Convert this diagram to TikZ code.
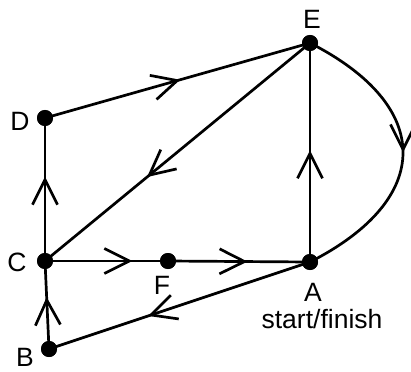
\documentclass[tikz,border=0pt]{standalone}
\usepackage{fontspec}
\setmainfont{Liberation Sans}
\usetikzlibrary{arrows.meta,decorations.markings}
\tikzset{
  dot/.style={circle,fill=black,inner sep=0pt,minimum size=16pt},
  lbl/.style={inner sep=0pt,font=\fontsize{26.5}{30}\selectfont},
  edge/.style={line width=2.7pt,black},
  chev/.style={postaction={decorate,decoration={markings,
     mark=at position #1 with {\arrow[line width=2.7pt]{Straight Barb[length=25pt,width=25pt]}}}}}
}
\begin{document}
\begin{tikzpicture}[x=1pt,y=-1pt]
\useasboundingbox (0,0) rectangle (411,371);
\node[dot] (E) at (310,43) {};
\node[dot] (D) at (45,118) {};
\node[dot] (C) at (45,261) {};
\node[dot] (F) at (168,261) {};
\node[dot] (A) at (310,262) {};
\node[dot] (B) at (49,349) {};
\draw[edge,chev=0.51] (D.center) -- (E.center);
\draw[edge,chev=0.615] (E.center) -- (C.center);
\draw[edge,chev=0.59] (C.center) -- (D.center);
\draw[edge,chev=0.71] (C.center) -- (F.center);
\draw[edge,chev=0.56] (F.center) -- (A.center);
\draw[edge,chev=0.51] (A.center) -- (E.center);
\draw[edge,chev=0.62] (A.center) -- (B.center);
\draw[edge,chev=0.59] (B.center) -- (C.center);
\draw[edge,chev=0.5] (E.center) .. controls +(124,63) and +(124,-63) .. (A.center);
\foreach \n in {E,D,C,F,A,B} \node[dot] at (\n) {};
\node[lbl] (lE) at (312,19) {E};
\node[lbl] (lD) at (20,121) {D};
\node[lbl] (lC) at (17,262) {C};
\node[lbl] (lF) at (162,285) {F};
\node[lbl] (lA) at (313,292) {A};
\node[lbl] (lS) at (322,319) {start/finish};
\node[lbl] (lB) at (25,357) {B};
\end{tikzpicture}
\end{document}
